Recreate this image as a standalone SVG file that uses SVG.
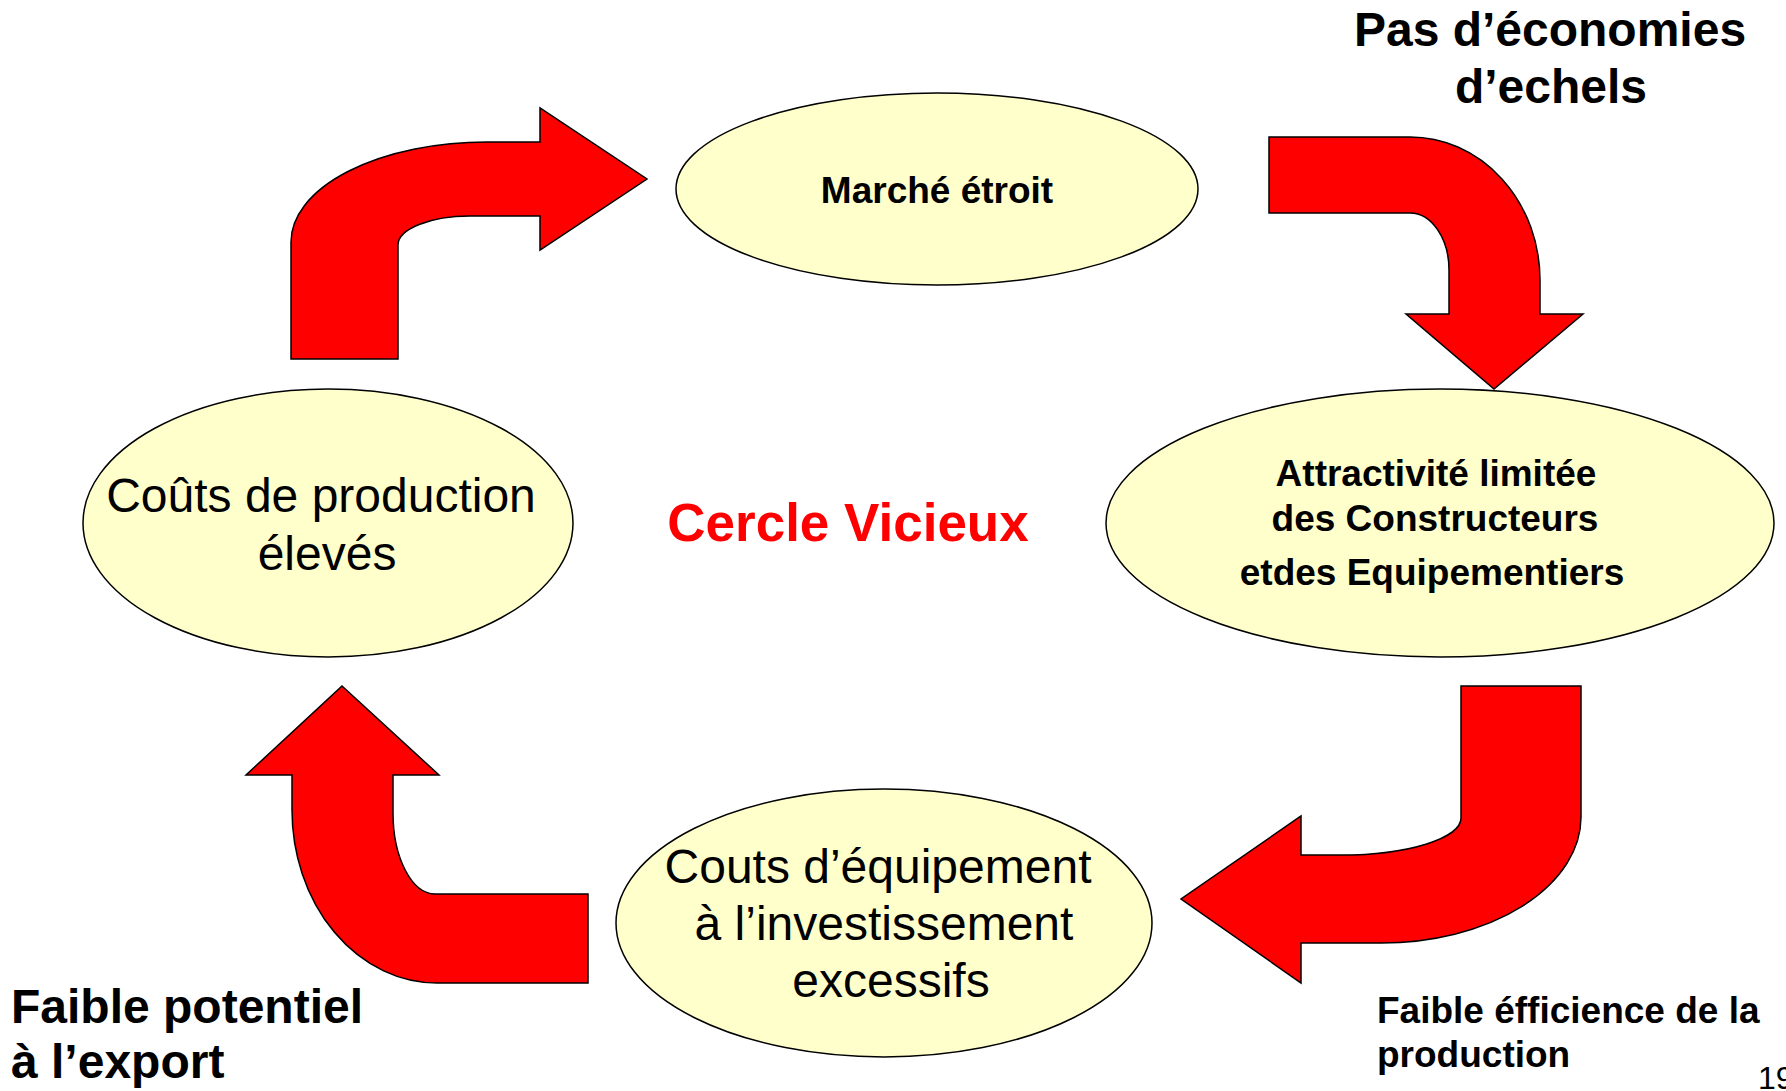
<svg xmlns="http://www.w3.org/2000/svg" width="1786" height="1091" viewBox="0 0 1786 1091">
<style>
.bg{fill:#ffffff}
.node{fill:#FFFFCC;stroke:#000000;stroke-width:1.5}
.arrow{fill:#FF0000;stroke:#000000;stroke-width:1.5;stroke-linejoin:miter}
.t{font-family:"Liberation Sans",Arial,sans-serif;fill:#000000;text-anchor:middle}
.b{font-weight:bold}
.l{text-anchor:start}
</style>
<rect class="bg" x="0" y="0" width="1786" height="1091"/>
<g id="connectors">
<path id="arrow-top-left" class="arrow" d="M291,359 L291,242 A196,100 0 0 1 487,142 L540,142 L540,108 L647,179 L540,250 L540,216 L470,216 A72,29 0 0 0 398,245 L398,359 Z"/>
<path id="arrow-top-right" class="arrow" d="M1269,137 L1410,137 A130,143 0 0 1 1540,280 L1540,314 L1583,314 L1494,389 L1406,314 L1449,314 L1449,270 A39,57 0 0 0 1410,213 L1269,213 Z"/>
<path id="arrow-bottom-right" class="arrow" d="M1461,686 L1581,686 L1581,817 A200,126 0 0 1 1381,943 L1301,943 L1301,983 L1181,899 L1301,816 L1301,855 L1341,855 A120,37 0 0 0 1461,818 Z"/>
<path id="arrow-bottom-left" class="arrow" d="M588,894 L435,894 A42,81 0 0 1 393,813 L393,775 L439,775 L342,686 L246,775 L292,775 L292,810 A145,173 0 0 0 437,983 L588,983 Z"/>
</g>
<g id="node-marche">
<ellipse class="node" cx="937" cy="189" rx="261" ry="96"/>
<text class="t b" x="937" y="203" font-size="37">Marché étroit</text>
</g>
<g id="node-attractivite">
<ellipse class="node" cx="1440" cy="523" rx="334" ry="134"/>
<text class="t b" x="1436" y="486" font-size="37">Attractivité limitée</text>
<text class="t b" x="1435" y="531" font-size="37">des Constructeurs</text>
<text class="t b" x="1432" y="585" font-size="37">etdes Equipementiers</text>
</g>
<g id="node-couts-equipement">
<ellipse class="node" cx="884" cy="923" rx="268" ry="134"/>
<text class="t" x="878" y="883" font-size="48">Couts d’équipement</text>
<text class="t" x="884" y="940" font-size="48">à l’investissement</text>
<text class="t" x="891" y="997" font-size="48">excessifs</text>
</g>
<g id="node-couts-production">
<ellipse class="node" cx="328" cy="523" rx="245" ry="134"/>
<text class="t" x="321" y="512" font-size="48">Coûts de production</text>
<text class="t" x="327" y="570" font-size="48">élevés</text>
</g>
<g id="labels">
<text class="t b" x="848" y="541" font-size="53" fill="#FF0000" style="fill:#FF0000">Cercle Vicieux</text>
<text class="t b" x="1550" y="46" font-size="48">Pas d’économies</text>
<text class="t b" x="1551" y="103" font-size="48">d’echels</text>
<text class="t b l" x="11" y="1023" font-size="48">Faible potentiel</text>
<text class="t b l" x="11" y="1078" font-size="48">à l’export</text>
<text class="t b l" x="1377" y="1023" font-size="37">Faible éfficience de la</text>
<text class="t b l" x="1377" y="1067" font-size="37">production</text>
<text class="t l" x="1758" y="1089" font-size="32">19</text>
</g>
</svg>
